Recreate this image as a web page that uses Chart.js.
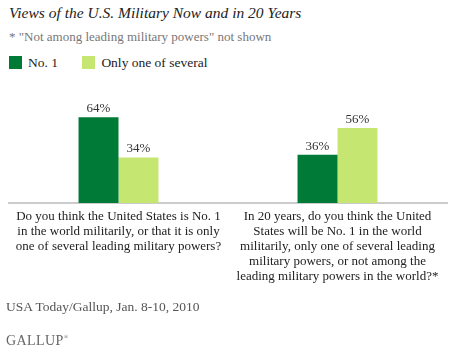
<!DOCTYPE html>
<html>
<head>
<meta charset="utf-8">
<script src="https://cdn.jsdelivr.net/npm/chart.js@4"></script>
<style>
  html, body { margin:0; padding:0; background:#fff; }
  body { width:454px; height:354px; position:relative; overflow:hidden; font-family:'Liberation Serif', 'DejaVu Serif', serif; }
  #chart { position:absolute; left:0; top:0; }
  .title { position:absolute; left:9px; top:4px; font-size:15.5px; font-style:italic; color:#222; }
  .note { position:absolute; left:9px; top:29px; font-size:13px; color:#777; }
  .legend { position:absolute; left:9px; top:55px; font-size:13.5px; color:#222; }
  .legend span.sw { display:inline-block; width:13px; height:13px; vertical-align:-2px; margin-right:6px; }
  .legend span.item { margin-right:21px; }
  .source { position:absolute; left:6px; top:299px; font-size:13.5px; color:#555; }
  .brand { position:absolute; left:6px; top:333px; font-size:14px; color:#666; letter-spacing:0.4px; }
  .brand sup { font-size:6px; }
</style>
</head>
<body>
<div class="title">Views of the U.S. Military Now and in 20 Years</div>
<div class="note">* "Not among leading military powers" not shown</div>
<div class="legend">
  <span class="item"><span class="sw" style="background:#007a37"></span>No. 1</span>
  <span class="item"><span class="sw" style="background:#c6e672"></span>Only one of several</span>
</div>
<canvas id="chart" width="454" height="354"></canvas>
<div class="source">USA Today/Gallup, Jan. 8-10, 2010</div>
<div class="brand">GALLUP<sup>&reg;</sup></div>
<script>
// Data
const QUESTIONS = [
  ['Do you think the United States is No. 1', 'in the world militarily, or that it is only', 'one of several leading military powers?'],
  ['In 20 years, do you think the United', 'States will be No. 1 in the world', 'militarily, only one of several leading', 'military powers, or not among the', 'leading military powers in the world?*']
];
const NO_ONE = [64, 36];
const ONE_OF_SEVERAL = [34, 56];

const SERIF = "'Liberation Serif', 'DejaVu Serif', serif";

// value labels above each bar
const barLabels = {
  id: 'barLabels',
  afterDatasetsDraw(chart) {
    const ctx = chart.ctx;
    ctx.save();
    ctx.font = '13px ' + SERIF;
    ctx.fillStyle = '#333';
    ctx.textAlign = 'center';
    ctx.textBaseline = 'bottom';
    chart.data.datasets.forEach((ds, i) => {
      chart.getDatasetMeta(i).data.forEach((bar, j) => {
        ctx.fillText(ds.data[j] + '%', bar.x, bar.y - 2);
      });
    });
    ctx.restore();
  }
};

new Chart(document.getElementById('chart'), {
  type: 'bar',
  data: {
    labels: QUESTIONS,
    datasets: [
      { label: 'No. 1', data: NO_ONE, backgroundColor: '#007a37' },
      { label: 'Only one of several', data: ONE_OF_SEVERAL, backgroundColor: '#c6e672' }
    ]
  },
  options: {
    responsive: false,
    animation: false,
    layout: { padding: { left: 9, right: 7, top: 69, bottom: 51 } },
    datasets: { bar: { categoryPercentage: 0.365, barPercentage: 1 } },
    plugins: { legend: { display: false }, tooltip: { enabled: false } },
    scales: {
      y: { display: false, min: 0, max: 100 },
      x: {
        afterFit: s => { s.height = 100; },
        grid: { display: false, drawTicks: false },
        border: { color: '#cccccc', width: 2 },
        ticks: { color: '#222', font: { family: SERIF, size: 13, lineHeight: 1.15 }, padding: 6, maxRotation: 0, autoSkip: false }
      }
    }
  },
  plugins: [barLabels]
});
</script>
</body>
</html>
